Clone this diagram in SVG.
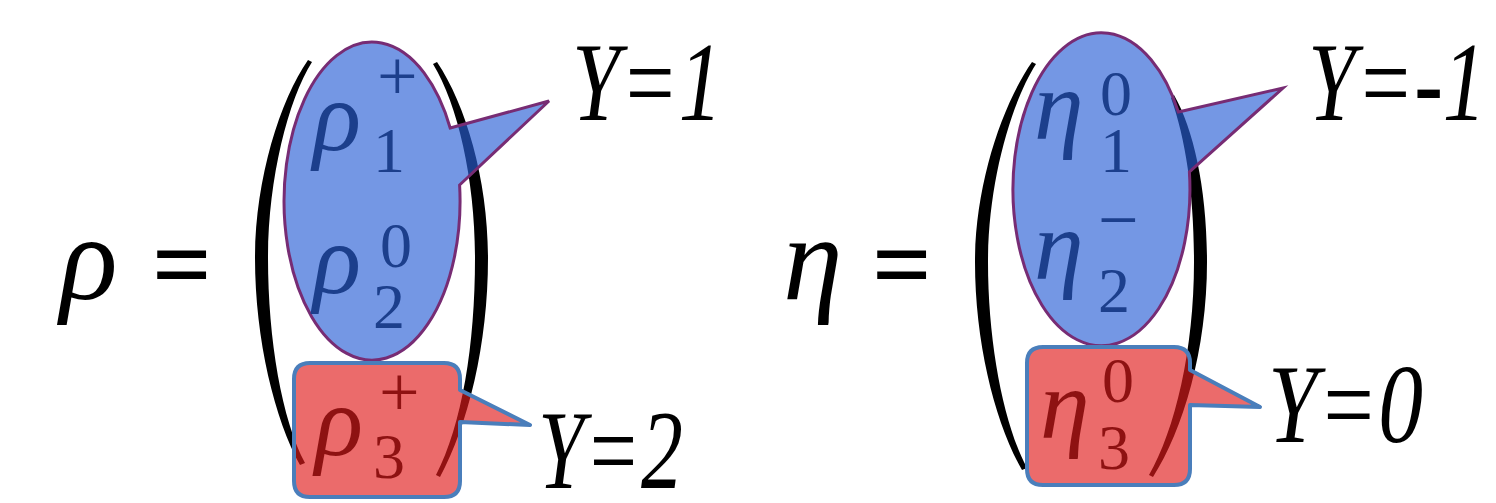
<svg xmlns="http://www.w3.org/2000/svg" width="1496" height="503" viewBox="0 0 1496 503">
<style>
.bg{fill:#ffffff}
.paren{fill:#000000}
.blue{fill:#2a5fd6;fill-opacity:0.65;stroke:#772c74;stroke-width:3;stroke-linejoin:miter}
.red{fill:#e01c1c;fill-opacity:0.65;stroke:#4a7ebb;stroke-width:4;stroke-linejoin:round}
.gk{font-family:"Liberation Serif","Times New Roman",serif;font-style:italic}
.num{font-family:"Liberation Serif","Times New Roman",serif;font-style:normal}
.main{font-size:120px;fill:#000}
.eq{font-family:"Liberation Serif","Times New Roman",serif;font-weight:bold;font-size:105px;fill:#000}
.in{font-size:100px}
.sub{font-size:64px}
.sup{font-size:72px}
.bt{fill:#1c3f8c}
.rt{fill:#8e1212}
.ylab{font-family:"Liberation Serif","Times New Roman",serif;font-style:italic;font-size:113px;fill:#000}
</style>
<rect class="bg" x="0" y="0" width="1496" height="503"/>

<g id="rho-lhs">
<text class="gk main" x="60" y="299">ρ</text>
<text class="eq" x="152" y="300">=</text>
</g>
<g id="eta-lhs">
<text class="gk main" x="783" y="299">η</text>
<text class="eq" x="872" y="300">=</text>
</g>

<g id="parens">
<path class="paren" d="M308,60 C280,100 255,180 255,258 C255,340 275,420 300,465 L305,463 C282,420 268,340 268,258 C268,180 288,100 312,62 Z"/>
<path class="paren" d="M437,62 C466,105 488,180 488,258 C488,345 468,425 440,477 L436,475 C462,425 475,345 475,258 C475,180 458,105 433,64 Z"/>
<path class="paren" d="M1032,62 C1002,105 975,185 975,262 C975,345 996,425 1022,470 L1027,468 C1004,425 988,345 988,262 C988,185 1010,105 1036,64 Z"/>
<path class="paren" d="M1174,95 C1194,130 1207,190 1207,262 C1207,350 1183,430 1153,477 L1149,475 C1175,430 1194,350 1194,262 C1194,195 1186,140 1171,98 Z"/>
</g>

<g id="connectors"></g>

<g id="rho-blue">
<path class="blue" d="M450.2,128 L549,101 L459.6,185 A88,159 0 1 1 450.2,128 Z"/>
<text class="gk in bt" x="313" y="150">ρ<tspan class="num sub" x="373" y="172">1</tspan><tspan class="num sup" x="377" y="100">+</tspan></text>
<text class="gk in bt" x="313" y="293">ρ<tspan class="num sub" x="373" y="328">2</tspan><tspan class="num sub" x="380" y="267">0</tspan></text>
</g>

<g id="rho-red">
<path class="red" d="M310,363 H444 Q460,363 460,379 V390 L530,425 L460,422 V481 Q460,497 444,497 H310 Q294,497 294,481 V379 Q294,363 310,363 Z"/>
<text class="gk in rt" x="315" y="455">ρ<tspan class="num sub" x="373" y="478">3</tspan><tspan class="num sup" x="379" y="416">+</tspan></text>
</g>

<g id="eta-blue">
<path class="blue" d="M1178.4,112 L1283,88 L1189.4,172 A88.5,156.5 0 1 1 1178.4,112 Z"/>
<text class="gk in bt" x="1034" y="139">η<tspan class="num sub" x="1100" y="172">1</tspan><tspan class="num sub" x="1100" y="115">0</tspan></text>
<text class="gk in bt" x="1034" y="279">η<tspan class="num sub" x="1098" y="312">2</tspan><tspan class="num sup" x="1098" y="244">−</tspan></text>
</g>

<g id="eta-red">
<path class="red" d="M1043,347 H1174 Q1190,347 1190,363 V370 L1260,407 L1190,405 V469 Q1190,485 1174,485 H1043 Q1027,485 1027,469 V363 Q1027,347 1043,347 Z"/>
<text class="gk in rt" x="1040" y="438">η<tspan class="num sub" x="1098" y="469">3</tspan><tspan class="num sub" x="1102" y="402">0</tspan></text>
</g>

<g id="labels">
<text class="ylab" x="0" y="0" transform="translate(572,120) scale(0.767,1)">Y=1</text>
<text class="ylab" x="0" y="0" transform="translate(1308,120) scale(0.763,1)">Y=-1</text>
<text class="ylab" x="0" y="0" transform="translate(538,488) scale(0.741,1)">Y=2</text>
<text class="ylab" x="0" y="0" transform="translate(1268,442) scale(0.792,1)">Y=0</text>
</g>
</svg>
